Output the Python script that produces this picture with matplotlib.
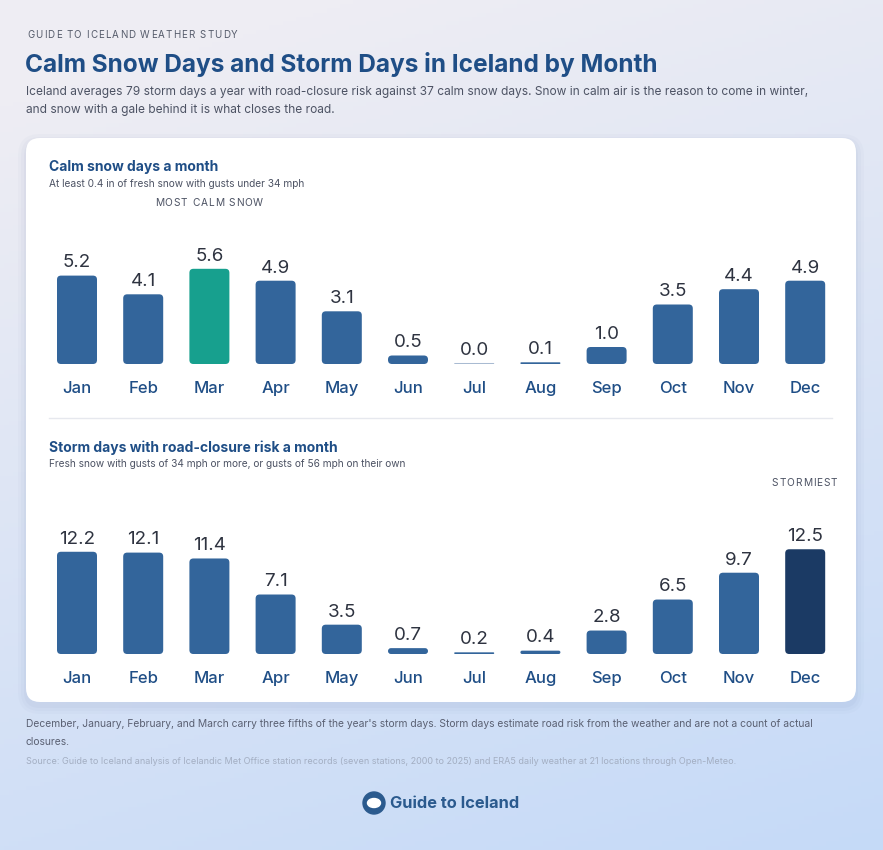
import numpy as np
import matplotlib
matplotlib.use("Agg")
import matplotlib.pyplot as plt
from matplotlib.patches import FancyBboxPatch, Circle, Ellipse
from matplotlib.colors import to_rgb
from matplotlib.font_manager import FontProperties

plt.rcParams['font.family'] = ['Inter', 'DejaVu Sans']

# data
months = ["Jan", "Feb", "Mar", "Apr", "May", "Jun", "Jul", "Aug", "Sep", "Oct", "Nov", "Dec"]
calm_days = [5.2, 4.1, 5.6, 4.9, 3.1, 0.5, 0.0, 0.1, 1.0, 3.5, 4.4, 4.9]
storm_days = [12.2, 12.1, 11.4, 7.1, 3.5, 0.7, 0.2, 0.4, 2.8, 6.5, 9.7, 12.5]

BLUE = "#33659b"
TEAL = "#17a08e"
NAVY = "#1b3a64"
TITLE = "#1f4e86"
GREY = "#4d5364"

W, H = 883, 850
fig = plt.figure(figsize=(W / 100, H / 100), dpi=100)
renderer = fig.canvas.get_renderer()

# background gradient
bg = fig.add_axes([0, 0, 1, 1])
bg.set_xlim(0, W)
bg.set_ylim(H, 0)
bg.axis("off")
yy, xx = np.mgrid[0:1:200j, 0:1:200j]
t = np.clip(0.8 * yy + 0.25 * xx - 0.1, 0, 1)
c0 = np.array(to_rgb("#eeedf3"))
c1 = np.array(to_rgb("#c3d9f8"))
img = c0 + (c1 - c0) * t[..., None]
bg.imshow(img, extent=[0, W, H, 0], aspect="auto", zorder=0)


def spaced_text(x, y, s, size, spacing, ha="left", **kw):
    # draw caps label with letter spacing (px), one glyph at a time
    prop = FontProperties(family=plt.rcParams['font.family'], size=size)
    def wid(sub):
        return renderer.get_text_width_height_descent(sub, prop, ismath=False)[0]
    total = wid(s) + spacing * (len(s) - 1)
    start = x if ha == "left" else (x - total if ha == "right" else x - total / 2)
    for i, ch in enumerate(s):
        if ch == " ":
            continue
        bg.text(start + wid(s[:i]) + spacing * i, y, ch, fontsize=size, va="center",
                ha="left", zorder=3, **kw)


# card with soft shadow
for k, a in [(8, 0.03), (5, 0.04), (2, 0.05)]:
    bg.add_patch(FancyBboxPatch((26 - k, 138 - k + 4), 830 + 2 * k, 564 + 2 * k,
                                boxstyle="round,pad=0,rounding_size=%d" % (14 + k),
                                facecolor="#6b7fa8", edgecolor="none", alpha=a, zorder=1))
bg.add_patch(FancyBboxPatch((26, 138), 830, 564, boxstyle="round,pad=0,rounding_size=14",
                            facecolor="white", edgecolor="none", zorder=2))

# header text
spaced_text(27, 35, "GUIDE TO ICELAND WEATHER STUDY", 7, 1.1, color="#565c6b")
bg.text(25, 64, "Calm Snow Days and Storm Days in Iceland by Month", fontsize=17.6,
        fontweight="bold", color=TITLE, va="center", ha="left", zorder=3)
bg.text(26, 92, "Iceland averages 79 storm days a year with road-closure risk against 37 calm snow days. "
        "Snow in calm air is the reason to come in winter,", fontsize=8.6, color=GREY,
        va="center", ha="left", zorder=3)
bg.text(26, 110, "and snow with a gale behind it is what closes the road.", fontsize=8.6,
        color=GREY, va="center", ha="left", zorder=3)

# panel headings
bg.text(49, 167, "Calm snow days a month", fontsize=10, fontweight="bold", color=TITLE,
        va="center", zorder=3)
bg.text(49, 184, "At least 0.4 in of fresh snow with gusts under 34 mph", fontsize=7.3,
        color=GREY, va="center", zorder=3)
spaced_text(209, 203, "MOST CALM SNOW", 7.3, 0.9, ha="center", color="#4d5364")
bg.plot([49, 832], [418, 418], color="#e6e8ee", lw=1, zorder=3)
bg.text(49, 448, "Storm days with road-closure risk a month", fontsize=10, fontweight="bold",
        color=TITLE, va="center", zorder=3)
bg.text(49, 464, "Fresh snow with gusts of 34 mph or more, or gusts of 56 mph on their own",
        fontsize=7.3, color=GREY, va="center", zorder=3)
spaced_text(837, 483, "STORMIEST", 7.3, 0.9, ha="right", color="#4d5364")

# footer
bg.text(26, 724, "December, January, February, and March carry three fifths of the year's storm days. "
        "Storm days estimate road risk from the weather and are not a count of actual",
        fontsize=7.4, color="#5a6072", va="center", zorder=3)
bg.text(26, 742, "closures.", fontsize=7.4, color="#5a6072", va="center", zorder=3)
bg.text(26, 762, "Source: Guide to Iceland analysis of Icelandic Met Office station records "
        "(seven stations, 2000 to 2025) and ERA5 daily weather at 21 locations through Open-Meteo.",
        fontsize=6.5, color="#a3aec2", va="center", zorder=3)

# logo
bg.add_patch(Circle((374, 803), 11, color="#2b5a8e", zorder=3))
bg.add_patch(Ellipse((374, 803), 13, 9, color="white", zorder=4))
bg.text(390, 803, "Guide to Iceland", fontsize=11.8, fontweight="bold", color="#2b5a8e",
        va="center", ha="left", zorder=3)


def bar_panel(values, colors, base_px, px_per_unit, height_px):
    step = 66.2
    left = 77 - step / 2
    ax = fig.add_axes([left / W, (H - base_px) / H, 12 * step / W, height_px / H], zorder=5)
    ax.patch.set_alpha(0)
    ax.set_xlim(-0.5, 11.5)
    ax.set_ylim(0, height_px / px_per_unit)
    for s in ax.spines.values():
        s.set_visible(False)
    ax.set_yticks([])
    ax.set_xticks(range(12))
    ax.set_xticklabels(months, fontsize=12, color=TITLE, fontweight="medium")
    ax.tick_params(axis="x", length=0, pad=12.5)
    width = 40 / step
    x_px = step  # pixels per x unit
    bars = ax.bar(range(12), [max(v, 0.06 * 17 / px_per_unit) for v in values],
                  width=width, color=colors)
    for b, v, c in zip(bars, values, colors):
        x0, y0 = b.get_x(), b.get_y()
        w, h = b.get_width(), b.get_height()
        r_px = min(4.0, h * px_per_unit / 2)
        b.set_visible(False)
        ax.add_patch(FancyBboxPatch((x0, y0), w, h,
                                    boxstyle="round,pad=0,rounding_size=%f" % (r_px / x_px),
                                    mutation_aspect=x_px / px_per_unit,
                                    facecolor=c, edgecolor="none"))
        ax.annotate("%.1f" % v, (b.get_x() + w / 2, h), xytext=(0, 3),
                    textcoords="offset points", ha="center", va="bottom",
                    fontsize=13.5, color="#2e3340")
    return ax


top_colors = [BLUE] * 12
top_colors[2] = TEAL
top_colors[6] = "#a9bbd2"
bar_panel(calm_days, top_colors, 364, 17.0, 150)

bot_colors = [BLUE] * 12
bot_colors[11] = NAVY
bar_panel(storm_days, bot_colors, 654, 8.38, 150)

fig.savefig("out.png", dpi=100)
